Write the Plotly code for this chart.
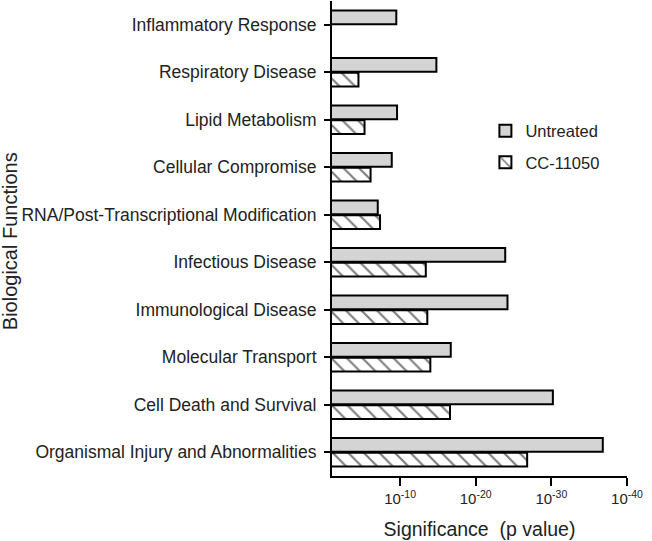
import plotly.graph_objects as go

categories = [
    "Inflammatory Response",
    "Respiratory Disease",
    "Lipid Metabolism",
    "Cellular Compromise",
    "RNA/Post-Transcriptional Modification",
    "Infectious Disease",
    "Immunological Disease",
    "Molecular Transport",
    "Cell Death and Survival",
    "Organismal Injury and Abnormalities",
]
# -log10(p value)
untreated = [9.5, 14.8, 9.6, 8.9, 7.05, 23.9, 24.2, 16.7, 30.2, 36.8]
cc11050 = [None, 4.5, 5.3, 6.1, 7.35, 13.4, 13.6, 14.0, 16.6, 26.8]
tick_vals = [10, 20, 30, 40]
tick_text = ["10<sup>-10</sup>", "10<sup>-20</sup>", "10<sup>-30</sup>", "10<sup>-40</sup>"]

FONT = "Liberation Sans, Arial, sans-serif"
TXT = "#222222"

fig = go.Figure()
fig.add_trace(go.Bar(
    y=categories, x=untreated, orientation="h", name="Untreated",
    marker=dict(color="#d4d4d4", line=dict(color="black", width=2)),
    legendgroup="a",
))
fig.add_trace(go.Bar(
    y=categories, x=cc11050, orientation="h", name="CC-11050",
    marker=dict(color="white", line=dict(color="black", width=2),
                pattern=dict(shape="\\", fgcolor="black", bgcolor="white",
                             size=11, solidity=0.2)),
    legendgroup="b",
))

fig.update_layout(
    width=652, height=541,
    margin=dict(l=332, r=25, t=1, b=65),
    paper_bgcolor="white", plot_bgcolor="white",
    barmode="group", bargap=0.37, bargroupgap=0.08,
    font=dict(family=FONT, color=TXT),
    showlegend=True,
    legend=dict(x=0.52, y=0.763, xanchor="left", yanchor="top",
                font=dict(size=16.5, family=FONT, color=TXT),
                tracegroupgap=7, bgcolor="rgba(0,0,0,0)"),
    annotations=[dict(
        text="Biological Functions", textangle=-90,
        xref="paper", yref="paper",
        x=(9.5 - 332) / 295, y=(476 - 241.7) / 475,
        xanchor="center", yanchor="middle", showarrow=False,
        font=dict(size=20, family=FONT, color=TXT),
    )],
)
fig.update_xaxes(
    range=[1, 40], tickvals=tick_vals, ticktext=tick_text,
    automargin=False,
    showline=True, linecolor="black", linewidth=2,
    ticks="outside", ticklen=8, tickwidth=2, tickcolor="black",
    showgrid=False, zeroline=False,
    tickfont=dict(size=15, family=FONT, color=TXT),
    title=dict(text="Significance  (p value)", standoff=16,
               font=dict(size=19.5, family=FONT, color=TXT)),
)
fig.update_yaxes(
    autorange="reversed", automargin=False,
    showline=True, linecolor="black", linewidth=2,
    ticks="outside", ticklen=6, tickwidth=2, tickcolor="black",
    showgrid=False, zeroline=False,
    tickfont=dict(size=17.5, family=FONT, color=TXT),
    ticklabelstandoff=4,
)

fig.write_html("out.html", config={"displayModeBar": False},
               post_script="document.body.style.margin='0px';")
